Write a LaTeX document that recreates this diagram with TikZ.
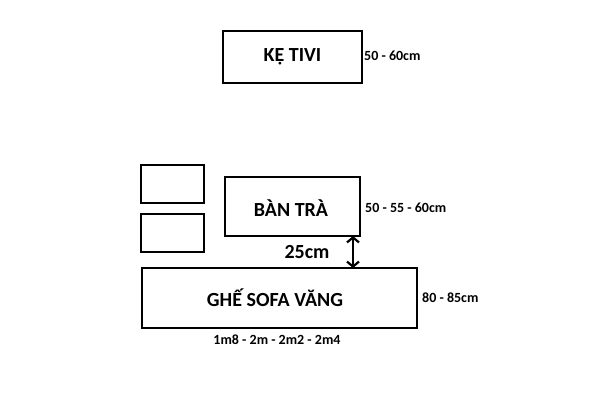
\documentclass[tikz,border=0pt]{standalone}
\usepackage{fontspec}
\setmainfont{Carlito}
\usetikzlibrary{arrows.meta}
\begin{document}
\begin{tikzpicture}[x=1pt,y=-1pt,
  box/.style={draw=black,line width=2.4pt,fill=white},
  big/.style={font=\fontsize{20}{24}\selectfont\bfseries},
  small/.style={font=\fontsize{14}{17}\selectfont\bfseries,anchor=west,inner sep=0pt}]
\useasboundingbox[fill=white] (0,0) rectangle (600,400);
\draw[box] (223,31) rectangle (362,83);
\node[big] (ke) at (292.5,57) {KỆ TIVI};
\node[small] (kedim) at (364,56) {50 - 60cm};
\draw[box] (141,165) rectangle (204,203);
\draw[box] (141,214) rectangle (204,252);
\draw[box] (225,177) rectangle (360,236);
\coordinate (bantop) at (353,236);
\node[big] (ban) at (291,208) {BÀN TRÀ};
\node[small] (bandim) at (365,208) {50 - 55 - 60cm};
\draw[box] (142,268) rectangle (417,328);
\coordinate (sofatop) at (353,268);
\node[big] (sofa) at (275,298) {GHẾ SOFA VĂNG};
\node[small] (sofadim) at (422,298) {80 - 85cm};
\node[small,anchor=center] (sofalen) at (277,340) {1m8 - 2m - 2m2 - 2m4};
\node[big] (gap) at (307,252) {25cm};
\draw[line width=2.2pt,{Straight Barb[length=5pt,width=12pt]}-{Straight Barb[length=5pt,width=12pt]}] (bantop) -- (sofatop);
\end{tikzpicture}
\end{document}
